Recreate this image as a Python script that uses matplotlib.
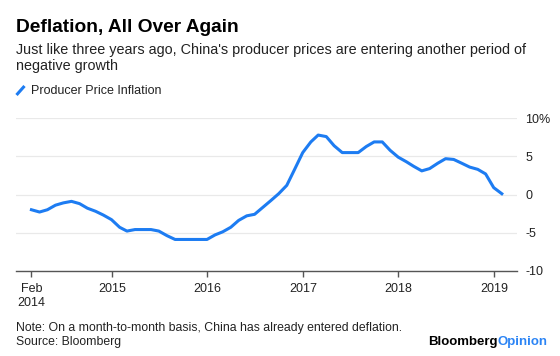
import matplotlib
matplotlib.use('Agg')
import matplotlib.pyplot as plt
import matplotlib.lines as mlines
import pandas as pd

plt.rcParams['font.family'] = ['Liberation Sans', 'DejaVu Sans']

# Monthly PPI, Feb 2014 - Jan 2019 (month-end dates)
dates = pd.date_range('2014-02-28', periods=60, freq='ME')
ppi = [-2.0, -2.3, -2.0, -1.4, -1.1, -0.9, -1.2, -1.8, -2.2, -2.7, -3.3,
       -4.3, -4.8, -4.6, -4.6, -4.6, -4.8, -5.4, -5.9, -5.9, -5.9, -5.9, -5.9,
       -5.3, -4.9, -4.3, -3.4, -2.8, -2.6, -1.7, -0.8, 0.1, 1.2, 3.3, 5.5,
       6.9, 7.8, 7.6, 6.4, 5.5, 5.5, 5.5, 6.3, 6.9, 6.9, 5.8, 4.9,
       4.3, 3.7, 3.1, 3.4, 4.1, 4.7, 4.6, 4.1, 3.6, 3.3, 2.7, 0.9,
       0.1]

x_tick_dates = pd.to_datetime(['2014-02-28', '2015-01-01', '2016-01-01',
                               '2017-01-01', '2018-01-01', '2019-01-01'])
x_tick_labels = ['Feb\n2014', '2015', '2016', '2017', '2018', '2019']
y_ticks = [-10, -5, 0, 5, 10]
y_tick_labels = ['-10', '-5', '0', '5', '10%']

W, H = 560, 356
fig = plt.figure(figsize=(W / 100, H / 100), dpi=100)
ax = fig.add_axes([16 / W, 1 - 270.7 / H, (517 - 16) / W, (270.7 - 118.3) / H])

line_color = '#1d7cf2'
ax.plot(dates, ppi, color=line_color, lw=2.2, solid_joinstyle='round', clip_on=False, zorder=3)

ax.set_xlim(pd.Timestamp('2013-12-31'), pd.Timestamp('2019-03-30'))
ax.set_ylim(-10, 10)

ax.set_xticks(x_tick_dates)
ax.set_xticklabels(x_tick_labels, fontsize=9, color='#222', linespacing=1.25)
ax.tick_params(axis='x', length=4, width=1, color='#555', pad=5)

ax.yaxis.tick_right()
ax.set_yticks(y_ticks)
ax.set_yticklabels(y_tick_labels, fontsize=9, color='#222')
ax.tick_params(axis='y', length=0, pad=6)
for lbl in ax.get_yticklabels():
    lbl.set_horizontalalignment('left')

ax.grid(axis='y', color='#e9e9e9', lw=0.9)
ax.set_axisbelow(True)
for side in ['top', 'left', 'right']:
    ax.spines[side].set_visible(False)
ax.spines['bottom'].set_color('#555')
ax.spines['bottom'].set_linewidth(1)

# Header texts
fig.text(16 / W, 1 - 28 / H, 'Deflation, All Over Again', fontsize=13.8,
         fontweight='bold', va='center', ha='left', color='#000')
fig.text(16 / W, 1 - 58 / H,
         "Just like three years ago, China's producer prices are entering another period of\nnegative growth",
         fontsize=10.4, va='center', ha='left', color='#222', linespacing=1.15)

# Legend
fig.add_artist(mlines.Line2D([16.5 / W, 24.5 / W], [1 - 95 / H, 1 - 86 / H],
                             color=line_color, lw=2.2, solid_capstyle='butt'))
fig.text(31 / W, 1 - 90.7 / H, 'Producer Price Inflation', fontsize=9,
         va='center', ha='left', color='#222')

# Footer
fig.text(16 / W, 1 - 328.3 / H,
         'Note: On a month-to-month basis, China has already entered deflation.',
         fontsize=8.8, va='center', ha='left', color='#222')
fig.text(16 / W, 1 - 341.7 / H, 'Source: Bloomberg', fontsize=8.8,
         va='center', ha='left', color='#222')

t_op = fig.text(547.7 / W, 1 - 341.7 / H, 'Opinion', fontsize=9.5, fontweight='bold',
                va='center', ha='right', color='#2b84f5')
fig.canvas.draw()
bb = t_op.get_window_extent()
fig.text(bb.x0 / W, 1 - 341.7 / H, 'Bloomberg', fontsize=9.5, fontweight='bold',
         va='center', ha='right', color='#000')

fig.savefig('out.png', dpi=100)
